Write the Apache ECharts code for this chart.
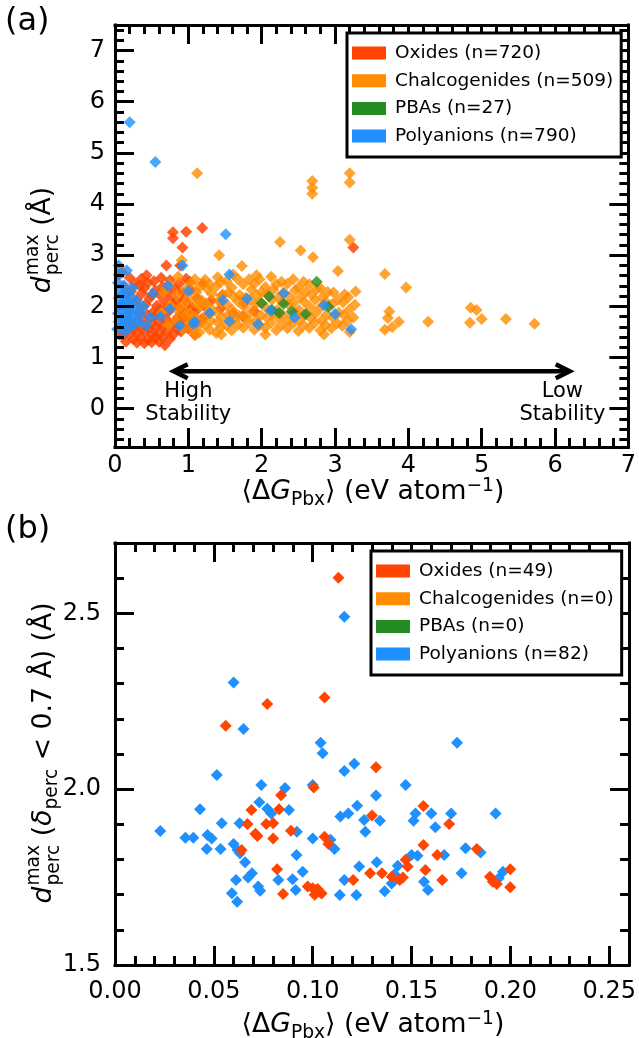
<!DOCTYPE html>
<html>
<head>
<meta charset="utf-8">
<script src="https://cdn.jsdelivr.net/npm/echarts@6.0.0/dist/echarts.min.js"></script>
<style>
  html, body { margin: 0; padding: 0; background: #fff; }
  #chart { width: 639px; height: 1038px; }
</style>
</head>
<body>
<div id="chart"></div>
<script>
// ---------- data: panel (a), all materials ----------
const namesA = ['Oxides (n=720)', 'Chalcogenides (n=509)', 'PBAs (n=27)', 'Polyanions (n=790)'];
const namesB = ['Oxides (n=49)', 'Chalcogenides (n=0)', 'PBAs (n=0)', 'Polyanions (n=82)'];

const oxidesA = [
  [0.10,1.42],[0.11,1.63],[0.09,2.02],[0.12,2.38],[0.10,2.66],
  [0.15,1.31],[0.16,1.52],[0.14,1.77],[0.17,2.21],
  [0.20,1.46],[0.21,1.66],[0.19,1.91],[0.22,2.29],[0.20,2.56],
  [0.25,1.36],[0.26,1.56],[0.24,2.06],[0.27,2.44],
  [0.30,1.29],[0.31,1.49],[0.29,1.71],[0.32,1.86],[0.30,2.14],[0.33,2.41],
  [0.35,1.39],[0.36,1.61],[0.34,1.96],[0.37,2.26],[0.36,2.54],
  [0.40,1.28],[0.41,1.51],[0.39,1.74],[0.42,2.04],[0.40,2.36],[0.43,2.61],
  [0.45,1.34],[0.46,1.56],[0.44,1.84],[0.47,2.16],[0.45,2.46],
  [0.50,1.30],[0.51,1.44],[0.49,1.66],[0.52,1.89],[0.50,2.21],[0.53,2.49],
  [0.55,1.41],[0.56,1.59],[0.54,1.81],[0.57,2.01],[0.55,2.31],
  [0.60,1.31],[0.61,1.49],[0.59,1.71],[0.62,1.94],[0.60,2.24],[0.63,2.56],
  [0.65,1.39],[0.66,1.61],[0.64,1.86],[0.67,2.11],[0.65,2.39],
  [0.68,1.24],[0.71,1.51],[0.69,1.76],[0.72,1.99],[0.70,2.31],[0.70,2.80],
  [0.75,1.36],[0.76,1.64],[0.74,1.91],[0.77,2.19],[0.75,2.51],
  [0.80,1.46],[0.81,1.69],[0.79,2.01],[0.82,2.34],[0.79,3.45],[0.79,3.33],
  [0.85,1.56],[0.86,1.79],[0.84,2.11],[0.87,2.44],
  [0.90,1.51],[0.91,1.74],[0.89,1.96],[0.92,2.26],[0.92,3.15],[0.89,2.80],
  [0.95,1.61],[0.96,1.86],[0.94,2.14],[0.97,2.54],[0.97,3.46],
  [1.00,1.56],[1.01,1.81],[0.99,2.06],[1.02,2.48],
  [1.05,1.71],[1.06,1.96],[1.04,2.31],
  [1.09,1.44],[1.11,1.66],[1.10,1.91],[1.12,2.16],
  [1.19,1.76],[1.21,2.01],[1.20,2.44],[1.19,3.53],
  [1.29,1.86],[1.31,2.11],[1.44,1.96],[1.46,2.21],
  [1.61,1.86],[1.74,1.80],[1.76,2.06],[1.90,1.91],
  [3.25,3.15],[0.05,2.62],[0.06,1.45]
];

const chalcA = [
  [0.64,1.88],[0.66,2.28],
  [0.73,1.64],[0.75,2.02],[0.74,2.43],
  [0.83,1.74],[0.85,1.93],[0.84,2.22],[0.86,2.58],
  [0.93,1.55],[0.95,1.82],[0.94,2.04],[0.96,2.33],
  [1.01,1.68],[1.02,1.87],[1.00,2.18],[1.03,2.45],
  [1.08,1.53],[1.10,1.79],[1.09,2.07],[1.11,2.27],[1.09,2.53],
  [1.15,1.49],[1.17,1.68],[1.16,1.99],[1.18,2.12],[1.15,2.38],
  [1.23,1.63],[1.25,1.83],[1.24,2.06],[1.26,2.34],[1.23,2.52],
  [1.29,1.54],[1.31,1.72],[1.30,1.97],[1.32,2.24],[1.29,2.43],
  [1.38,1.48],[1.40,1.69],[1.39,1.88],[1.41,2.11],[1.38,2.39],[1.40,2.57],
  [1.44,1.58],[1.46,1.78],[1.45,2.07],[1.47,2.23],[1.44,2.47],
  [1.52,1.63],[1.54,1.83],[1.53,2.03],[1.55,2.27],[1.52,2.49],
  [1.59,1.53],[1.61,1.74],[1.60,1.93],[1.62,2.19],[1.59,2.37],[1.61,2.62],
  [1.67,1.64],[1.69,1.82],[1.68,2.09],[1.70,2.22],[1.67,2.54],
  [1.75,1.58],[1.77,1.79],[1.76,1.99],[1.78,2.17],[1.75,2.43],
  [1.83,1.68],[1.85,1.88],[1.84,2.14],[1.86,2.33],[1.83,2.53],
  [1.90,1.54],[1.92,1.73],[1.91,2.03],[1.93,2.22],[1.90,2.44],
  [1.97,1.63],[1.99,1.82],[1.98,2.08],[2.00,2.28],[1.97,2.53],
  [2.05,1.58],[2.07,1.78],[2.06,1.97],[2.08,2.24],[2.05,2.38],
  [2.13,1.68],[2.15,1.87],[2.14,2.13],[2.16,2.33],[2.13,2.58],
  [2.20,1.53],[2.22,1.79],[2.21,1.93],[2.23,2.18],[2.20,2.43],
  [2.27,1.64],[2.29,1.83],[2.28,2.08],[2.30,2.27],[2.27,2.48],
  [2.35,1.57],[2.37,1.73],[2.36,2.04],[2.38,2.19],[2.35,2.44],
  [2.43,1.67],[2.45,1.88],[2.44,2.07],[2.46,2.32],[2.43,2.53],
  [2.50,1.52],[2.52,1.74],[2.51,1.93],[2.53,2.18],[2.50,2.37],
  [2.57,1.63],[2.59,1.83],[2.58,2.09],[2.60,2.28],[2.57,2.48],
  [2.65,1.58],[2.67,1.77],[2.66,1.98],[2.68,2.23],[2.65,2.43],
  [2.72,1.68],[2.74,1.87],[2.73,2.13],[2.75,2.34],
  [2.80,1.53],[2.82,1.73],[2.81,1.99],[2.83,2.18],[2.80,2.36],
  [2.87,1.63],[2.89,1.84],[2.88,2.08],[2.90,2.28],
  [2.95,1.57],[2.97,1.78],[2.96,2.04],[2.98,2.27],
  [3.03,1.67],[3.05,1.88],[3.04,2.13],
  [3.10,1.62],[3.12,1.83],[3.11,2.08],[3.13,2.23],
  [3.17,1.72],[3.19,1.93],[3.18,2.18],
  [3.25,1.78],[3.27,2.03],
  [1.12,4.60],[2.69,4.45],[2.69,4.32],[2.69,4.20],[3.20,4.60],[3.20,4.42],
  [3.20,3.30],[2.25,3.26],[2.53,3.09],[2.70,2.96],[0.91,2.90],[1.42,3.00],
  [3.04,2.69],[3.68,2.63],[3.97,2.37],[3.28,2.29],[3.74,1.90],[3.72,1.77],
  [3.87,1.70],[3.68,1.54],[3.78,1.59],[4.27,1.70],[4.85,1.97],[4.93,1.93],
  [4.84,1.68],[5.00,1.75],[5.33,1.75],[5.72,1.66],[1.73,2.79],[1.93,2.61],
  [1.45,1.45],[1.10,1.45],[2.05,1.45],[2.85,1.45],[3.20,1.50]
];

const pbaA = [
  [2.75,2.48],[2.10,2.19],[2.14,1.93],[2.24,1.87],[2.41,1.90],
  [2.91,1.99],[2.00,2.06],[2.30,2.05],[2.60,1.85]
];

const polyA = [
  [0.03,1.55],[0.05,1.70],[0.04,1.86],[0.06,2.01],[0.05,2.16],[0.07,2.31],[0.04,2.46],[0.05,2.80],[0.06,2.62],
  [0.08,1.61],[0.10,1.76],[0.09,1.91],[0.11,2.06],[0.10,2.21],[0.12,2.41],
  [0.13,1.50],[0.14,1.66],[0.15,1.81],[0.16,1.96],[0.15,2.11],[0.17,2.26],[0.16,2.70],
  [0.20,1.58],[0.21,1.73],[0.22,1.88],[0.20,2.03],[0.23,2.18],[0.24,2.36],
  [0.26,1.65],[0.27,1.80],[0.28,1.95],[0.30,2.10],[0.33,1.70],[0.36,1.86],[0.39,2.00],[0.42,1.62],[0.48,1.78],
  [0.20,5.60],[0.55,4.82],[1.51,3.41],[0.92,2.80],[1.56,2.62],[3.22,1.55],[1.07,1.66],[1.56,1.71],
  [0.62,1.80],[1.09,1.70],[1.29,1.87],[1.47,2.12],[0.75,1.95],[0.88,1.62],[1.95,1.65],[2.12,1.92],
  [2.45,1.78],[2.85,2.02],[0.52,2.25],[0.72,2.40],[1.00,2.30],[1.80,2.15],[2.30,2.25],[3.00,1.85]
];

// ---------- data: panel (b), delta_perc < 0.7 A subset ----------
const oxidesB = [
  [0.113,2.601],[0.106,2.261],[0.077,2.242],[0.056,2.180],[0.132,2.062],
  [0.1005,2.005],[0.084,1.983],[0.069,1.941],[0.083,1.943],[0.067,1.901],[0.0765,1.901],[0.080,1.903],
  [0.071,1.873],[0.072,1.867],[0.080,1.860],[0.089,1.882],[0.130,1.925],[0.156,1.952],[0.169,1.901],
  [0.106,1.865],[0.108,1.844],[0.064,1.827],[0.156,1.841],[0.163,1.813],[0.183,1.830],[0.147,1.799],
  [0.148,1.780],[0.082,1.772],[0.129,1.761],[0.135,1.761],[0.140,1.751],[0.1456,1.749],[0.144,1.742],
  [0.157,1.770],[0.1655,1.742],[0.1205,1.742],[0.0975,1.723],[0.100,1.718],[0.1015,1.712],[0.1035,1.708],
  [0.101,1.700],[0.1045,1.703],[0.1025,1.716],[0.085,1.702],[0.1896,1.751],[0.1911,1.737],[0.1931,1.730],
  [0.1999,1.772],[0.1999,1.721]
];

const polyB = [
  [0.116,2.490],[0.060,2.303],[0.065,2.171],[0.104,2.132],[0.105,2.102],[0.173,2.132],[0.121,2.072],
  [0.116,2.052],[0.0515,2.040],[0.074,2.012],[0.086,2.003],[0.100,2.012],[0.147,2.012],[0.132,1.982],
  [0.043,1.943],[0.073,1.963],[0.077,1.944],[0.079,1.931],[0.088,1.941],[0.1225,1.953],[0.118,1.931],
  [0.114,1.922],[0.126,1.912],[0.134,1.910],[0.1266,1.879],[0.152,1.931],[0.151,1.910],[0.160,1.931],
  [0.170,1.931],[0.162,1.892],[0.1925,1.931],[0.054,1.903],[0.063,1.903],[0.092,1.879],[0.0229,1.881],
  [0.0356,1.862],[0.0396,1.862],[0.0468,1.870],[0.0489,1.860],[0.0464,1.830],[0.0534,1.830],[0.060,1.844],
  [0.062,1.827],[0.100,1.860],[0.109,1.856],[0.111,1.830],[0.0632,1.818],[0.0918,1.813],[0.0658,1.792],
  [0.1773,1.832],[0.1849,1.820],[0.150,1.813],[0.153,1.811],[0.1665,1.813],[0.1324,1.792],[0.1235,1.780],
  [0.143,1.782],[0.1753,1.761],[0.0949,1.765],[0.0693,1.761],[0.0673,1.749],[0.0612,1.742],[0.0826,1.742],
  [0.0898,1.744],[0.116,1.742],[0.1414,1.758],[0.1399,1.732],[0.1563,1.737],[0.1583,1.713],[0.1962,1.765],
  [0.1941,1.747],[0.0724,1.723],[0.0734,1.711],[0.0591,1.704],[0.0618,1.680],[0.0914,1.713],[0.1137,1.699],
  [0.1221,1.699],[0.1364,1.710]
];

// ---------- axes ----------
const xLimA = [0, 7], yLimA = [-0.75, 7.5];
const xLimB = [0, 0.26], yLimB = [1.5, 2.7];
const xTicksA = [0, 1, 2, 3, 4, 5, 6, 7];
const yTicksA = [0, 1, 2, 3, 4, 5, 6, 7];
const xTicksB = [0, 0.05, 0.10, 0.15, 0.20, 0.25];
const yTicksB = [1.5, 2.0, 2.5];
const minorStep = { xA: 0.2, yA: 0.2, xB: 0.01, yB: 0.1 };

const colors = { oxides: '#FF4500', chalc: '#FF8C00', pba: '#228B22', poly: '#1E90FF' };
const FONT = 'DejaVu Sans';

// minor tick positions: multiples of the step strictly inside the axis limits
function minorTicks(lim, step) {
  const out = [];
  const start = Math.ceil(lim[0] / step - 1e-9);
  for (let k = start; k * step < lim[1] - 1e-9; k++) {
    const v = +(k * step).toFixed(6);
    if (v > lim[0] + 1e-9) out.push(v);
  }
  return out;
}

const GRID_LEFT = 115, GRID_W = 517, GRID_H = 422, TOP_A = 25, TOP_B = 543;

function tickStyle(len, values) {
  return { show: true, inside: true, length: len, customValues: values,
           lineStyle: { color: '#000', width: 3 } };
}

// one side of a panel: a labelled/major-tick axis plus a minor-tick axis
function sideAxes(gridIndex, position, lim, majors, minors, label) {
  const base = { type: 'value', gridIndex, position, min: lim[0], max: lim[1],
                 splitLine: { show: false }, z: 5 };
  const main = Object.assign({}, base, {
    axisLine: { show: true, onZero: false, lineStyle: { color: '#000', width: 3, cap: 'square' } },
    axisTick: tickStyle(19, majors),
    axisLabel: label
      ? Object.assign({ show: true, customValues: majors, color: '#000', fontFamily: FONT, fontSize: 24 }, label)
      : { show: false }
  });
  const minor = Object.assign({}, base, {
    axisLine: { show: false, onZero: false },
    axisTick: tickStyle(9, minors),
    axisLabel: { show: false }
  });
  return [main, minor];
}

const xMinA = minorTicks(xLimA, minorStep.xA), yMinA = minorTicks(yLimA, minorStep.yA);
const xMinB = minorTicks(xLimB, minorStep.xB), yMinB = minorTicks(yLimB, minorStep.yB);

const xAxes = [].concat(
  sideAxes(0, 'bottom', xLimA, xTicksA, xMinA, { margin: 7, formatter: v => String(Math.round(v)) }),
  sideAxes(0, 'top', xLimA, xTicksA, xMinA, null),
  sideAxes(1, 'bottom', xLimB, xTicksB, xMinB, { margin: 15, formatter: v => v.toFixed(2) }),
  sideAxes(1, 'top', xLimB, xTicksB, xMinB, null)
);
const yAxes = [].concat(
  sideAxes(0, 'left', yLimA, yTicksA, yMinA, { margin: 10, formatter: v => String(Math.round(v)) }),
  sideAxes(0, 'right', yLimA, yTicksA, yMinA, null),
  sideAxes(1, 'left', yLimB, yTicksB, yMinB, { margin: 14, formatter: v => v.toFixed(1) }),
  sideAxes(1, 'right', yLimB, yTicksB, yMinB, null)
);

function scatter(name, data, color, axisIndex, opacity) {
  return {
    type: 'scatter', name, data, xAxisIndex: axisIndex, yAxisIndex: axisIndex,
    symbol: 'diamond', symbolSize: 12,
    itemStyle: { color, opacity },
    emphasis: { disabled: true }, z: 2
  };
}

function legendFor(names, left, top) {
  return {
    data: names, orient: 'vertical', left, top,
    itemWidth: 34, itemHeight: 13, itemGap: 7.7, padding: [10, 8, 11, 5],
    backgroundColor: '#fff', borderColor: '#000', borderWidth: 3, borderRadius: 0,
    selectedMode: false, icon: 'rect', z: 6,
    itemStyle: { opacity: 1, borderWidth: 0 },
    textStyle: { fontFamily: FONT, fontSize: 18.5, color: '#000', lineHeight: 20, padding: [0, 0, 0, 4] }
  };
}

const chart = echarts.init(document.getElementById('chart'), null, { renderer: 'canvas' });

chart.setOption({
  animation: false,
  backgroundColor: '#fff',
  grid: [
    { left: GRID_LEFT, top: TOP_A, width: GRID_W, height: GRID_H, containLabel: false },
    { left: GRID_LEFT, top: TOP_B, width: GRID_W, height: GRID_H, containLabel: false }
  ],
  xAxis: xAxes,
  yAxis: yAxes,
  legend: [legendFor(namesA, 347, 33), legendFor(namesB, 371, 551)],
  series: [
    scatter(namesA[0], oxidesA, colors.oxides, 0, 0.85),
    scatter(namesA[1], chalcA, colors.chalc, 0, 0.8),
    scatter(namesA[2], pbaA, colors.pba, 0, 0.8),
    scatter(namesA[3], polyA, colors.poly, 0, 0.8),
    scatter(namesB[3], polyB, colors.poly, 4, 1),
    scatter(namesB[0], oxidesB, colors.oxides, 4, 1),
    scatter(namesB[1], [], colors.chalc, 4, 1),
    scatter(namesB[2], [], colors.pba, 4, 1)
  ]
});

// ---------- text pieces for axis titles (mathtext-like layout) ----------
const measureCtx = document.createElement('canvas').getContext('2d');
function fontStr(size, italic) { return (italic ? 'italic ' : '') + size.toFixed(2) + 'px "' + FONT + '"'; }
function measure(t, size, italic) { measureCtx.font = fontStr(size, italic); return measureCtx.measureText(t).width; }
const MID = 0.346; // distance from baseline up to the canvas 'middle' line, in em

function mathText(pieces, S) {
  let x = 0, stackStart = 0;
  const items = [];
  pieces.forEach(p => {
    const size = S * (p.scale || 1);
    const w = measure(p.t, size, p.italic);
    let px;
    if (p.stack) { px = stackStart; } else { px = x; stackStart = x; }
    items.push({ t: p.t, x: px, y: (p.dy || 0) * S - MID * size, font: fontStr(size, p.italic) });
    x = p.stack ? Math.max(x, px + w) : px + w;
    x += (p.after || 0) * S;
  });
  return { items, width: x };
}

function titleGroup(pieces, S, cx, baseline, vertical) {
  const m = mathText(pieces, S);
  const children = m.items.map(it => ({
    type: 'text', x: it.x - m.width / 2, y: it.y, silent: true,
    style: { text: it.t, font: it.font, fill: '#000', align: 'left', verticalAlign: 'middle' }
  }));
  return vertical
    ? { type: 'group', x: baseline, y: cx, rotation: Math.PI / 2, children, z: 10 }
    : { type: 'group', x: cx, y: baseline, children, z: 10 };
}

const S = 26.67;
const xTitle = [
  { t: '\u27E8\u0394' }, { t: 'G', italic: true },
  { t: 'Pbx', scale: 0.7, dy: 0.2 },
  { t: '\u27E9 (eV atom' }, { t: '\u22121', scale: 0.7, dy: -0.33 }, { t: ')' }
];
const yTitleA = [
  { t: 'd', italic: true, after: 0.04 }, { t: 'max', scale: 0.7, dy: -0.5 },
  { t: 'perc', scale: 0.7, dy: 0.25, stack: true }, { t: ' (\u00C5)' }
];
const yTitleB = [
  { t: 'd', italic: true, after: 0.04 }, { t: 'max', scale: 0.7, dy: -0.5 },
  { t: 'perc', scale: 0.7, dy: 0.25, stack: true }, { t: ' (' },
  { t: '\u03B4', italic: true }, { t: 'perc', scale: 0.7, dy: 0.2 },
  { t: ' < 0.7 \u00C5) (\u00C5)' }
];

// annotation: stability arrow and its end labels (data coordinates of panel a)
const arrowSpan = [0.8, 6.2], arrowY = 0.73;
const stabilityLabels = [
  { x: 1.0, lines: ['High', 'Stability'] },
  { x: 6.1, lines: ['Low', 'Stability'] }
];
const labelLineY = [0.20, -0.255];

const toPx = v => chart.convertToPixel({ xAxisIndex: 0, yAxisIndex: 0 }, v);
const pL = toPx([arrowSpan[0], arrowY]), pR = toPx([arrowSpan[1], arrowY]);
const head = 14, half = 7, arrowStyle = { stroke: '#000', lineWidth: 4.5, lineJoin: 'miter', fill: null };

const graphics = [
  { type: 'line', shape: { x1: pL[0] + 2, y1: pL[1], x2: pR[0] - 2, y2: pR[1] }, style: arrowStyle, z: 10, silent: true },
  { type: 'polyline', shape: { points: [[pL[0] + head, pL[1] - half], [pL[0], pL[1]], [pL[0] + head, pL[1] + half]] }, style: arrowStyle, z: 10, silent: true },
  { type: 'polyline', shape: { points: [[pR[0] - head, pR[1] - half], [pR[0], pR[1]], [pR[0] - head, pR[1] + half]] }, style: arrowStyle, z: 10, silent: true },
  { type: 'text', x: 5, y: 33 - MID * 32, silent: true, z: 10,
    style: { text: '(a)', font: fontStr(32), fill: '#000', align: 'left', verticalAlign: 'middle' } },
  { type: 'text', x: 5, y: 541 - MID * 32, silent: true, z: 10,
    style: { text: '(b)', font: fontStr(32), fill: '#000', align: 'left', verticalAlign: 'middle' } },
  titleGroup(xTitle, S, 373, 501, false),
  titleGroup(xTitle, S, 373, 1034, false),
  titleGroup(yTitleA, S, 240, 52.5, true),
  titleGroup(yTitleB, S, 753, 53.5, true)
];

stabilityLabels.forEach(lab => {
  lab.lines.forEach((line, i) => {
    const p = toPx([lab.x, labelLineY[i]]);
    graphics.push({ type: 'text', x: p[0], y: p[1] - MID * 21, silent: true, z: 10,
      style: { text: line, font: fontStr(21), fill: '#000', align: 'center', verticalAlign: 'middle' } });
  });
});

chart.setOption({ graphic: graphics });
</script>
</body>
</html>
